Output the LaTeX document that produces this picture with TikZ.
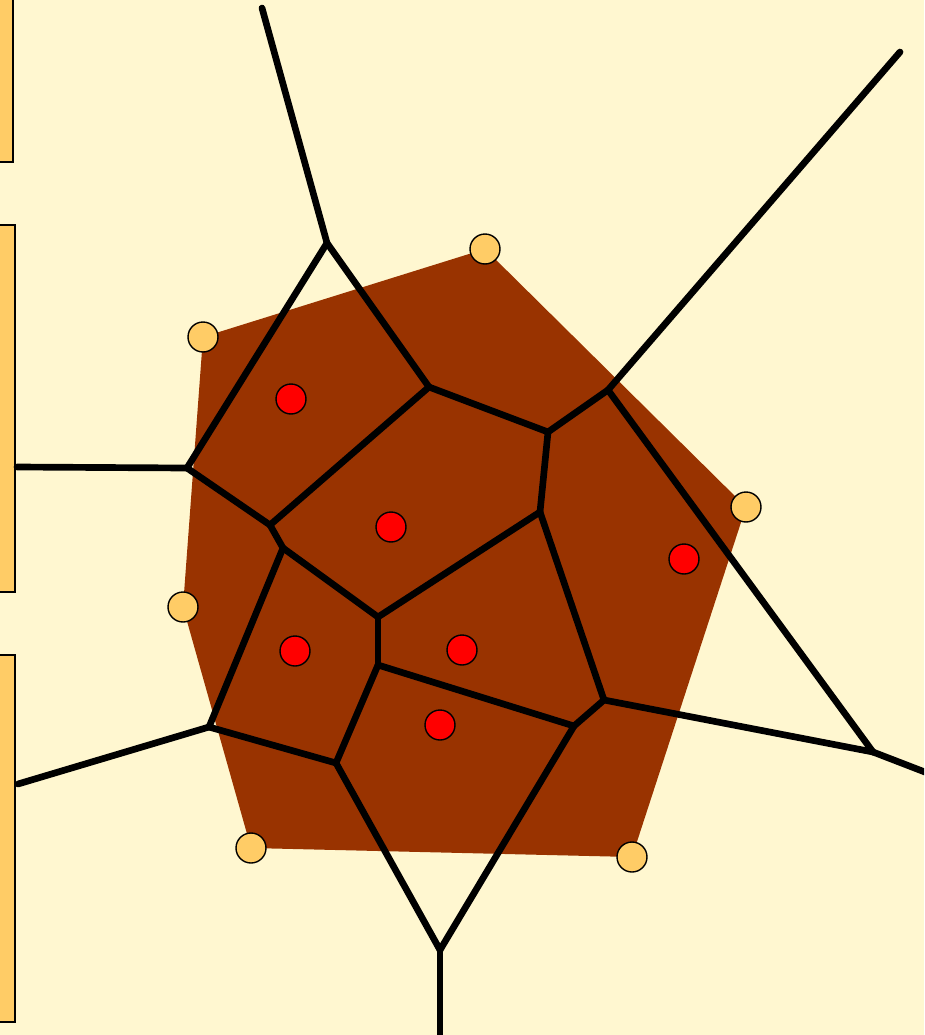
\documentclass[tikz,border=0pt]{standalone}
\usepackage{tikz}
\usetikzlibrary{positioning}
\definecolor{vorcream}{RGB}{255,247,208}
\definecolor{vorbrown}{RGB}{153,51,0}
\definecolor{vororange}{RGB}{255,204,102}
\definecolor{vorred}{RGB}{255,0,0}
\tikzset{
    hullsite/.style={circle, draw=black, fill=vororange, minimum size=0.6cm, inner sep=0pt, line width=0.8pt},
    innersite/.style={circle, draw=black, fill=vorred, minimum size=0.6cm, inner sep=0pt, line width=0.8pt},
    sidebar/.style={draw=black, fill=vororange, line width=1.5pt},
    vedge/.style={draw=black, line width=3.8pt, line cap=round}
}
\begin{document}
\begin{tikzpicture}[x=0.02cm, y=-0.02cm]
    \clip (0,0) rectangle (924,1035);
    \fill[vorcream] (0,0) rectangle (924,1035);
    % side bars
    \draw[sidebar] (-10,-10) rectangle (13,162);
    \draw[sidebar] (-10,225) rectangle (15,592);
    \draw[sidebar] (-10,655) rectangle (15,1022);
    % convex hull
    \fill[vorbrown] (485,249) -- (746,507) -- (632,857) -- (251,848) -- (183,607) -- (203,337) -- cycle;
    % voronoi vertices
    \coordinate (va) at (327,243);
    \coordinate (vb) at (187,468);
    \coordinate (vc) at (429,387);
    \coordinate (vd) at (548,432);
    \coordinate (ve) at (608,390);
    \coordinate (vf) at (270,525);
    \coordinate (vg) at (283,548);
    \coordinate (vh) at (540,512);
    \coordinate (vi) at (378,617);
    \coordinate (vj) at (378,665);
    \coordinate (vk) at (604,700);
    \coordinate (vl) at (574,726);
    \coordinate (vm) at (209,727);
    \coordinate (vn) at (336,763);
    \coordinate (vo) at (873,752);
    \coordinate (vp) at (440,950);
    % free ends
    \coordinate (fa) at (262,8);
    \coordinate (fb) at (17,467);
    \coordinate (fe) at (900,52);
    \coordinate (fm) at (18,784);
    \coordinate (fo) at (930,774);
    \coordinate (fp) at (440,1045);
    % edges
    \draw[vedge] (fa) -- (va);
    \draw[vedge] (va) -- (vb);
    \draw[vedge] (va) -- (vc);
    \draw[vedge] (vc) -- (vd);
    \draw[vedge] (vd) -- (ve);
    \draw[vedge] (ve) -- (fe);
    \draw[vedge] (ve) -- (vo);
    \draw[vedge] (vd) -- (vh);
    \draw[vedge] (fb) -- (vb);
    \draw[vedge] (vb) -- (vf);
    \draw[vedge] (vf) -- (vc);
    \draw[vedge] (vf) -- (vg);
    \draw[vedge] (vg) -- (vi);
    \draw[vedge] (vg) -- (vm);
    \draw[vedge] (vi) -- (vh);
    \draw[vedge] (vi) -- (vj);
    \draw[vedge] (vh) -- (vk);
    \draw[vedge] (vk) -- (vl);
    \draw[vedge] (vk) -- (vo);
    \draw[vedge] (vj) -- (vl);
    \draw[vedge] (vj) -- (vn);
    \draw[vedge] (vn) -- (vm);
    \draw[vedge] (vm) -- (fm);
    \draw[vedge] (vn) -- (vp);
    \draw[vedge] (vl) -- (vp);
    \draw[vedge] (vp) -- (fp);
    \draw[vedge] (vo) -- (fo);
    % hull sites
    \node[hullsite] (h1) at (485,249) {};
    \node[hullsite] (h2) at (203,337) {};
    \node[hullsite] (h3) at (746,507) {};
    \node[hullsite] (h4) at (183,607) {};
    \node[hullsite] (h5) at (251,848) {};
    \node[hullsite] (h6) at (632,857) {};
    % inner sites
    \node[innersite] (s1) at (291,399) {};
    \node[innersite] (s2) at (391,527) {};
    \node[innersite] (s3) at (684,559) {};
    \node[innersite] (s4) at (295,651) {};
    \node[innersite] (s5) at (462,650) {};
    \node[innersite] (s6) at (440,725) {};
\end{tikzpicture}
\end{document}
